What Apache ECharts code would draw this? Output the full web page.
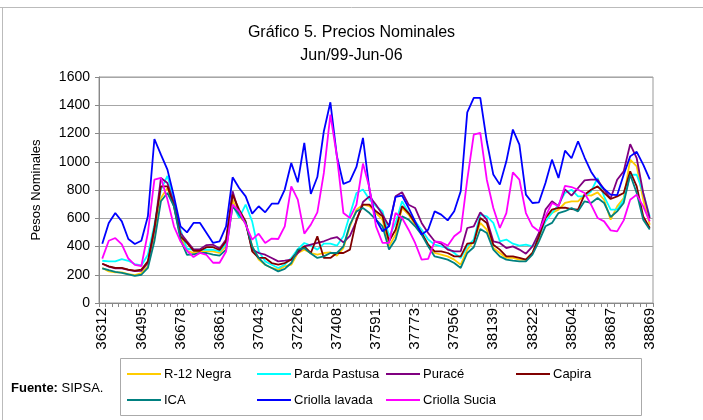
<!DOCTYPE html>
<html>
<head>
<meta charset="utf-8">
<script src="https://cdn.jsdelivr.net/npm/echarts@6/dist/echarts.min.js"></script>
<style>html,body{margin:0;padding:0;background:#fff}#c{width:703px;height:420px}</style>
</head>
<body>
<div id="c"></div>
<script>
// Monthly categories (Excel date serials), Jun-1999 .. Jun-2006
var dates = [36312,36342,36373,36404,36434,36465,36495,
 36526,36557,36586,36617,36647,36678,36708,36739,36770,36800,36831,36861,
 36892,36923,36951,36982,37012,37043,37073,37104,37135,37165,37196,37226,
 37257,37288,37316,37347,37377,37408,37438,37469,37500,37530,37561,37591,
 37622,37653,37681,37712,37742,37773,37803,37834,37865,37895,37926,37956,
 37987,38018,38047,38078,38108,38139,38169,38200,38231,38261,38292,38322,
 38353,38384,38412,38443,38473,38504,38534,38565,38596,38626,38657,38687,
 38718,38749,38777,38808,38838,38869];

var r12Negra = [248,224,217,217,205,198,212,260,472,744,814,696,472,370,355,366,366,366,354,401,732,614,567,401,307,271,248,236,260,271,354,378,354,342,354,359,335,389,543,661,696,685,637,590,401,484,673,626,555,496,413,354,342,330,307,271,378,437,567,519,389,354,319,319,307,307,354,460,602,637,661,708,720,720,767,760,783,731,590,684,743,1015,967,731,554];
var pardaPastusa = [299,295,295,311,299,276,266,342,555,803,900,732,519,384,377,377,377,377,365,420,696,602,696,578,366,295,271,248,271,319,382,425,406,378,420,420,406,472,626,779,803,732,685,649,472,567,720,637,578,519,449,413,401,389,354,319,401,449,626,614,567,437,449,420,406,413,401,472,578,637,696,780,802,755,755,790,885,755,661,661,731,908,908,779,613];
var purace = [278,258,245,245,234,226,228,283,519,885,850,708,496,437,380,380,410,413,385,449,791,637,567,378,354,342,319,295,300,307,354,401,413,425,437,455,467,429,476,580,715,755,696,626,543,755,784,696,673,567,496,437,420,378,366,366,531,543,642,590,437,425,389,401,378,349,401,496,661,720,685,805,760,814,868,873,873,802,740,873,932,1124,1025,779,600];
var capira = [278,260,248,248,236,229,236,295,531,826,826,685,472,425,370,370,395,395,375,437,767,661,578,366,319,319,283,271,283,307,366,401,354,472,319,319,354,354,378,590,696,696,649,614,437,519,685,637,567,496,413,366,366,354,330,330,420,425,602,567,413,378,330,330,319,307,354,472,602,661,673,675,665,661,767,802,826,779,736,755,779,932,826,613,531];
var ica = [245,232,220,214,203,192,200,248,437,720,779,685,449,340,345,354,354,342,335,378,685,626,567,401,319,271,248,224,242,283,378,389,350,319,330,354,354,401,555,649,673,637,590,543,378,449,614,590,543,484,401,330,319,307,283,248,354,395,524,496,378,330,307,300,295,295,342,437,543,567,637,650,672,649,720,708,743,708,609,649,708,908,779,590,520];
var criollaLavada = [420,567,637,578,453,418,441,614,1161,1050,944,755,543,500,567,567,496,425,437,543,890,814,755,633,685,642,703,703,803,991,855,1133,772,892,1216,1421,1039,843,862,963,1169,800,590,508,543,751,760,673,578,484,519,649,626,585,649,791,1350,1452,1452,1145,909,838,1003,1228,1121,767,708,713,850,1015,885,1079,1025,1145,1030,930,860,808,767,763,908,1038,1070,980,875];
var criollaSucia = [314,441,460,415,315,270,262,496,873,885,732,543,437,370,325,355,340,285,285,365,696,649,555,449,491,425,456,453,543,826,732,491,555,642,921,1334,1039,637,602,696,987,814,543,425,425,637,602,519,425,307,312,437,430,406,472,508,873,1192,1204,873,673,531,637,925,873,637,543,508,614,708,685,830,821,802,779,696,602,578,514,507,585,731,767,684,578];

var seriesNames = ['R-12 Negra','Parda Pastusa','Puracé','Capira','ICA','Criolla lavada','Criolla Sucia'];
var seriesData = [r12Negra, pardaPastusa, purace, capira, ica, criollaLavada, criollaSucia];
var seriesColors = ['#FFCC00','#00FFFF','#800080','#800000','#008080','#0000FF','#FF00FF'];
var yTicks = {min:0, max:1600, interval:200};

var FONT = "'Liberation Sans', Arial, sans-serif";
var chart = echarts.init(document.getElementById('c'), null, {renderer:'canvas'});

var legendPos = [[127,366],[257,366],[386,366],[516,366],[127,392],[257,392],[386,392]];
var legends = seriesNames.map(function(n,i){
  return {
    data:[n], left:legendPos[i][0], top:legendPos[i][1], padding:0,
    icon:'rect', itemWidth:34, itemHeight:2, itemGap:0,
    selectedMode:false,
    textStyle:{fontFamily:FONT, fontSize:13, color:'#000', lineHeight:16, padding:[0,0,0,-2]}
  };
});

chart.setOption({
  animation:false,
  backgroundColor:'#fff',
  title:{
    text:'Gráfico 5. Precios Nominales\nJun/99-Jun-06',
    left:'center', top:16,
    textStyle:{fontFamily:FONT, fontSize:16, fontWeight:'normal', color:'#000', lineHeight:23}
  },
  legend:legends,
  grid:{left:99, right:50, top:77, bottom:117, show:true, borderColor:'#999', borderWidth:1},
  xAxis:{
    type:'category', data:dates, boundaryGap:true,
    axisLine:{lineStyle:{color:'#888', width:1}},
    axisTick:{show:true, interval:0, length:4, lineStyle:{color:'#888'}},
    axisLabel:{interval:5, rotate:90, margin:5, fontFamily:FONT, fontSize:15, color:'#000'},
    splitLine:{show:false}
  },
  yAxis:{
    type:'value', min:yTicks.min, max:yTicks.max, interval:yTicks.interval,
    name:'Pesos Nominales', nameLocation:'middle', nameGap:56,
    nameTextStyle:{fontFamily:FONT, fontSize:13, color:'#000'},
    axisLine:{show:true, lineStyle:{color:'#888'}},
    axisTick:{show:true, length:4, lineStyle:{color:'#888'}},
    axisLabel:{fontFamily:FONT, fontSize:14, color:'#000', margin:9,
      formatter:function(v){ return String(v); }},
    splitLine:{show:true, lineStyle:{color:'#a6a6a6', width:1}}
  },
  series:seriesNames.map(function(n,i){
    return {name:n, type:'line', data:seriesData[i], showSymbol:false, symbol:'none',
      lineStyle:{color:seriesColors[i], width:1.8}, itemStyle:{color:seriesColors[i]}};
  }),
  graphic:[
    {type:'line', shape:{x1:0, y1:7.5, x2:703, y2:7.5}, style:{stroke:'#bbb', lineWidth:1}},
    {type:'line', shape:{x1:2.5, y1:7, x2:2.5, y2:420}, style:{stroke:'#bbb', lineWidth:1}},
    {type:'rect', shape:{x:120.5, y:358.5, width:521, height:57}, style:{fill:'none', stroke:'#aaa', lineWidth:1}},
    {type:'text', left:11, top:382, style:{
      text:'{b|Fuente:} SIPSA.', fontFamily:FONT, fontSize:13, fill:'#000',
      rich:{b:{fontWeight:'bold', fontFamily:FONT, fontSize:13, fill:'#000'}}
    }}
  ]
});
</script>
</body>
</html>
